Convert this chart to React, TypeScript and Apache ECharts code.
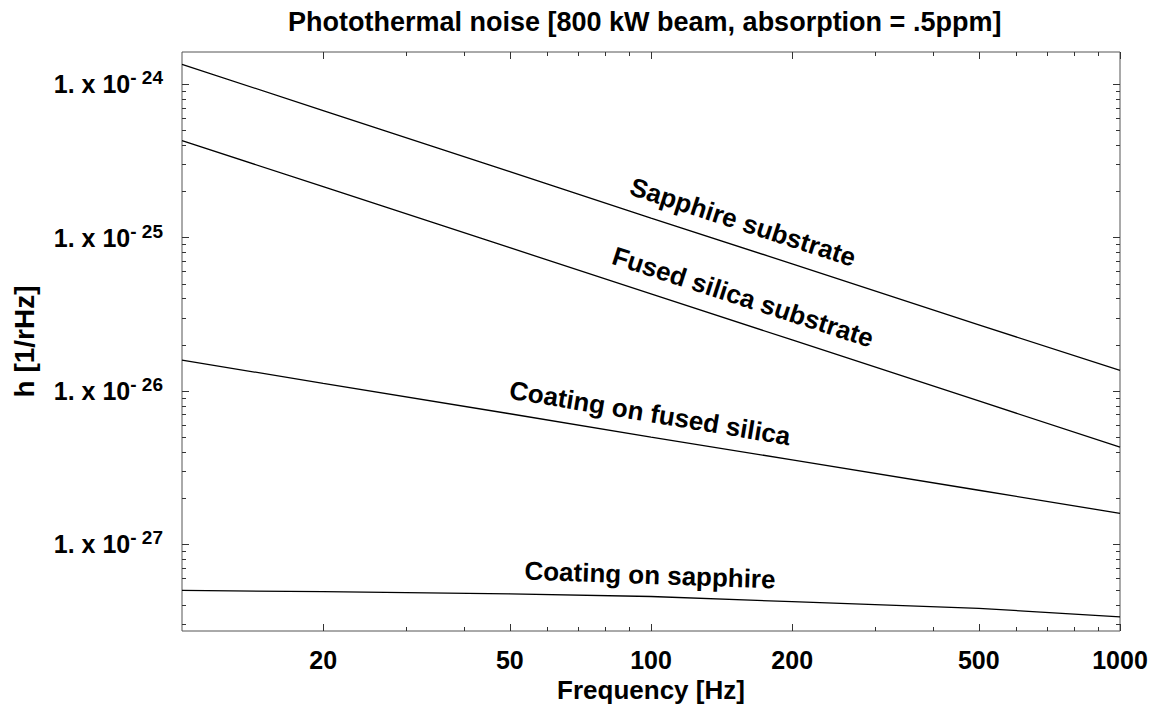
import React, { useEffect, useRef } from "react";
import * as echarts from "echarts";

const freqs = [10, 20, 50, 100, 200, 500, 1000];
const sapphireSubstrate = [1.35e-24, 6.75e-25, 2.7e-25, 1.34e-25, 6.75e-26, 2.7e-26, 1.36e-26];
const fusedSilicaSubstrate = [4.3e-25, 2.15e-25, 8.6e-26, 4.3e-26, 2.15e-26, 8.6e-27, 4.3e-27];
const coatingOnFusedSilica = [1.59e-26, 1.12e-26, 7.1e-27, 5.0e-27, 3.55e-27, 2.25e-27, 1.59e-27];
const coatingOnSapphire = [5.0e-28, 4.9e-28, 4.75e-28, 4.56e-28, 4.22e-28, 3.82e-28, 3.36e-28];

const seriesNames = ["Sapphire substrate", "Fused silica substrate", "Coating on fused silica", "Coating on sapphire"];

const xMajorTicks = [20, 50, 100, 200, 500, 1000];
const xMinorTicks = [30, 40, 60, 70, 80, 90, 300, 400, 600, 700, 800, 900];
const yMajorTicks = [1e-27, 1e-26, 1e-25, 1e-24];
const yMinorTicks = [
  3e-28, 4e-28, 5e-28, 6e-28, 7e-28, 8e-28, 9e-28,
  2e-27, 3e-27, 4e-27, 5e-27, 6e-27, 7e-27, 8e-27, 9e-27,
  2e-26, 3e-26, 4e-26, 5e-26, 6e-26, 7e-26, 8e-26, 9e-26,
  2e-25, 3e-25, 4e-25, 5e-25, 6e-25, 7e-25, 8e-25, 9e-25,
];

const xMin = 10;
const xMax = 1000;
const yMin = 2.716e-28;
const yMax = 1.626e-24;

const FONT = "'Liberation Sans', Arial, sans-serif";

// The y axis is a linear value axis over log10(h), because ECharts' log axis
// rounds extents of ~1e-28 to zero when placing custom ticks.
const lg = (v: number) => Math.log10(v);

export default function App() {
  const ref = useRef<HTMLDivElement>(null);
  useEffect(() => {
    if (!ref.current) return;
    const chart = echarts.init(ref.current, null, { renderer: "svg" });

    const tickColor = "#333";
    const makeX = (position: string, ticks: number[], len: number, withLabel: boolean, extra: any = {}) => ({
      type: "log",
      logBase: 10,
      min: xMin,
      max: xMax,
      position,
      axisLine: { show: false, onZero: false },
      splitLine: { show: false },
      minorTick: { show: false },
      axisTick: { show: true, inside: true, length: len, customValues: ticks, lineStyle: { color: tickColor, width: 1 } },
      axisLabel: withLabel
        ? {
            show: true,
            customValues: xMajorTicks,
            margin: 16,
            color: "#000",
            fontSize: 25,
            fontWeight: "bold",
            fontFamily: FONT,
            formatter: (v: number) => String(Math.round(v)),
          }
        : { show: false },
      ...extra,
    });
    const makeY = (position: string, ticks: number[], len: number, withLabel: boolean, extra: any = {}) => ({
      type: "value",
      min: lg(yMin),
      max: lg(yMax),
      position,
      axisLine: { show: false, onZero: false },
      splitLine: { show: false },
      minorTick: { show: false },
      axisTick: { show: true, inside: true, length: len, customValues: ticks.map(lg), lineStyle: { color: tickColor, width: 1 } },
      axisLabel: withLabel
        ? {
            show: true,
            customValues: yMajorTicks.map(lg),
            margin: 19,
            color: "#000",
            fontWeight: "bold",
            fontFamily: FONT,
            formatter: (v: number) => {
              const e = Math.round(v);
              return `{m|1. x 10}{s|- ${-e}}`;
            },
            rich: {
              m: { fontSize: 25, fontWeight: "bold", fontFamily: FONT, color: "#000" },
              s: { fontSize: 19, fontWeight: "bold", fontFamily: FONT, color: "#000", padding: [0, 0, 13, 0] },
            },
          }
        : { show: false },
      ...extra,
    });

    const nameStyle = { fontSize: 26, fontWeight: "bold", fontFamily: FONT, color: "#000" };

    const lineData = [sapphireSubstrate, fusedSilicaSubstrate, coatingOnFusedSilica, coatingOnSapphire];

    const labelSpecs = [
      { x: 743, y: 222, rot: -18 },
      { x: 743, y: 297, rot: -18 },
      { x: 650, y: 413, rot: -9.5 },
      { x: 650, y: 575, rot: -2 },
    ];

    chart.setOption({
      animation: false,
      backgroundColor: "#fff",
      title: {
        text: "Photothermal noise [800 kW beam, absorption = .5ppm]",
        left: 288,
        top: 8,
        padding: 0,
        textStyle: { fontSize: 27, fontWeight: "bold", fontFamily: FONT, color: "#000" },
      },
      grid: {
        left: 182,
        right: 41,
        top: 52,
        bottom: 84,
        show: true,
        borderColor: "#555",
        borderWidth: 1,
        backgroundColor: "transparent",
        containLabel: false,
        outerBoundsMode: "none",
      },
      xAxis: [
        makeX("bottom", xMajorTicks, 7, true, {
          name: "Frequency [Hz]",
          nameLocation: "middle",
          nameGap: 36,
          nameTextStyle: nameStyle,
        }),
        makeX("bottom", xMinorTicks, 4, false),
        makeX("top", xMajorTicks, 7, false),
        makeX("top", xMinorTicks, 4, false),
      ],
      yAxis: [
        makeY("left", yMajorTicks, 7, true, {
          name: "h [1/rHz]",
          nameLocation: "middle",
          nameGap: 144,
          nameTextStyle: { ...nameStyle, fontSize: 28 },
        }),
        makeY("left", yMinorTicks, 4, false),
        makeY("right", yMajorTicks, 7, false),
        makeY("right", yMinorTicks, 4, false),
      ],
      series: lineData.map((vals, i) => ({
        name: seriesNames[i],
        type: "line",
        xAxisIndex: 0,
        yAxisIndex: 0,
        showSymbol: false,
        symbol: "none",
        smooth: false,
        lineStyle: { color: "#000", width: 1.3 },
        data: freqs.map((f, j) => [f, lg(vals[j])]),
      })),
      graphic: labelSpecs.map((s, i) => ({
        type: "text",
        x: s.x,
        y: s.y,
        rotation: (s.rot * Math.PI) / 180,
        style: {
          text: seriesNames[i],
          fontSize: 26,
          fontWeight: "bold",
          fontFamily: FONT,
          fill: "#000",
          align: "center",
          verticalAlign: "middle",
          textAlign: "center",
          textVerticalAlign: "middle",
        },
      })),
    });

    return () => chart.dispose();
  }, []);

  return <div ref={ref} style={{ position: "absolute", left: 0, top: 0, width: 1161, height: 715 }} />;
}
